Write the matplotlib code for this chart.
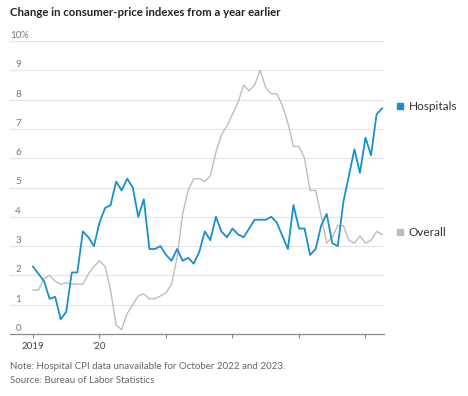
import numpy as np
import matplotlib
matplotlib.use("Agg")
import matplotlib.pyplot as plt
import matplotlib.transforms as mtransforms

# monthly, Jan 2019 .. Apr 2024 (None = no data)
hospitals = [2.3, 2.05, 1.8, 1.2, 1.27, 0.5, 0.76, 2.1, 2.1, 3.5, 3.3, 3.0,
             3.8, 4.3, 4.4, 5.2, 4.9, 5.3, 5.0, 4.0, 4.6, 2.9, 2.9, 3.0,
             2.7, 2.5, 2.9, 2.5, 2.6, 2.4, 2.8, 3.5, 3.2, 4.0, 3.5, 3.3,
             3.6, 3.4, 3.3, 3.6, 3.9, 3.9, 3.9, 4.0, 3.8, None, 2.9, 4.4,
             3.6, 3.6, 2.7, 2.9, 3.7, 4.1, 3.1, 3.0, 4.5, None, 6.3, 5.5,
             6.7, 6.1, 7.5, 7.7]
overall = [1.5, 1.5, 1.9, 2.0, 1.8, 1.7, 1.75, 1.7, 1.7, 1.7, 2.05, 2.3,
           2.5, 2.3, 1.5, 0.3, 0.15, 0.7, 1.0, 1.3, 1.37, 1.2, 1.2, 1.3,
           1.4, 1.7, 2.6, 4.1, 4.9, 5.3, 5.3, 5.2, 5.4, 6.2, 6.8, 7.1,
           7.5, 7.9, 8.5, 8.3, 8.5, 9.0, 8.4, 8.2, 8.2, 7.8, 7.2, 6.4,
           6.4, 6.0, 4.9, 4.9, 4.05, 3.1, 3.3, 3.7, 3.7, 3.2, 3.1, 3.35,
           3.1, 3.2, 3.5, 3.4]
year_ticks = [0, 12, 24, 36, 48, 60]
year_labels = ["2019", "\u201820", "", "", "", ""]
y_ticks = [0, 1, 2, 3, 4, 5, 6, 7, 8, 9, 10]

BLUE = "#1790d0"
GRAY = "#bdbdbd"
FONT = "Lato"

W, H = 468, 396
fig = plt.figure(figsize=(W / 100, H / 100), dpi=100)
ax = fig.add_axes([10 / W, 1 - 334 / H, 374 / W, 293 / H])

x = np.arange(len(hospitals))
h = np.array([np.nan if v is None else v for v in hospitals])
ok = ~np.isnan(h)

ax.plot(x, overall, color=GRAY, lw=1.0, zorder=3)
ax.plot(x[ok], h[ok], color=BLUE, lw=1.3, zorder=4)

ax.set_xlim(-4.15, 63.34)
ax.set_ylim(0, 10)

# gridlines
for t in y_ticks[1:]:
    ax.axhline(t, color="#e3e3e3", lw=0.8, zorder=1)

for s in ["top", "right", "left"]:
    ax.spines[s].set_visible(False)
ax.spines["bottom"].set_color("#8a8a8a")
ax.spines["bottom"].set_linewidth(0.9)

ax.set_yticks([])
ax.set_xticks(year_ticks)
ax.set_xticklabels(year_labels, family=FONT, fontsize=7, color="#444444")
ax.tick_params(axis="x", length=3, width=0.8, color="#8a8a8a", pad=3)

# y labels sit above the gridlines
trans = mtransforms.blended_transform_factory(ax.transAxes, ax.transData)
trans = mtransforms.offset_copy(trans, fig=fig, x=0, y=3, units="dots")
lx = 11 / 374
for t in y_ticks:
    ax.text(lx, t, str(t), transform=trans, ha="right", va="baseline",
            family=FONT, fontsize=7, color="#777777")
ax.text(lx, 10, "%", transform=trans, ha="left", va="baseline",
        family=FONT, fontsize=7, color="#777777")

# direct labels
mx = (400 - 33) / 5.5417
tx = (409 - 33) / 5.5417
for name, vals, col in [("Hospitals", h, BLUE), ("Overall", overall, GRAY)]:
    yv = vals[-1] + 0.07
    ax.plot([mx], [yv], marker="s", ms=5, color=col, clip_on=False, lw=0)
    ax.text(tx, yv, name, ha="left", va="center", family=FONT, fontsize=8.5,
            color="#333333", clip_on=False)

fig.text(10 / W, 1 - 15.5 / H, "Change in consumer-price indexes from a year earlier",
         ha="left", va="baseline", family=FONT, fontweight="bold", fontsize=8.2,
         color="#222222")
fig.text(10 / W, 1 - 369 / H, "Note: Hospital CPI data unavailable for October 2022 and 2023.",
         ha="left", va="baseline", family=FONT, fontsize=7, color="#666666")
fig.text(10 / W, 1 - 383 / H, "Source: Bureau of Labor Statistics",
         ha="left", va="baseline", family=FONT, fontsize=7, color="#666666")

fig.savefig("out.png", dpi=100)
